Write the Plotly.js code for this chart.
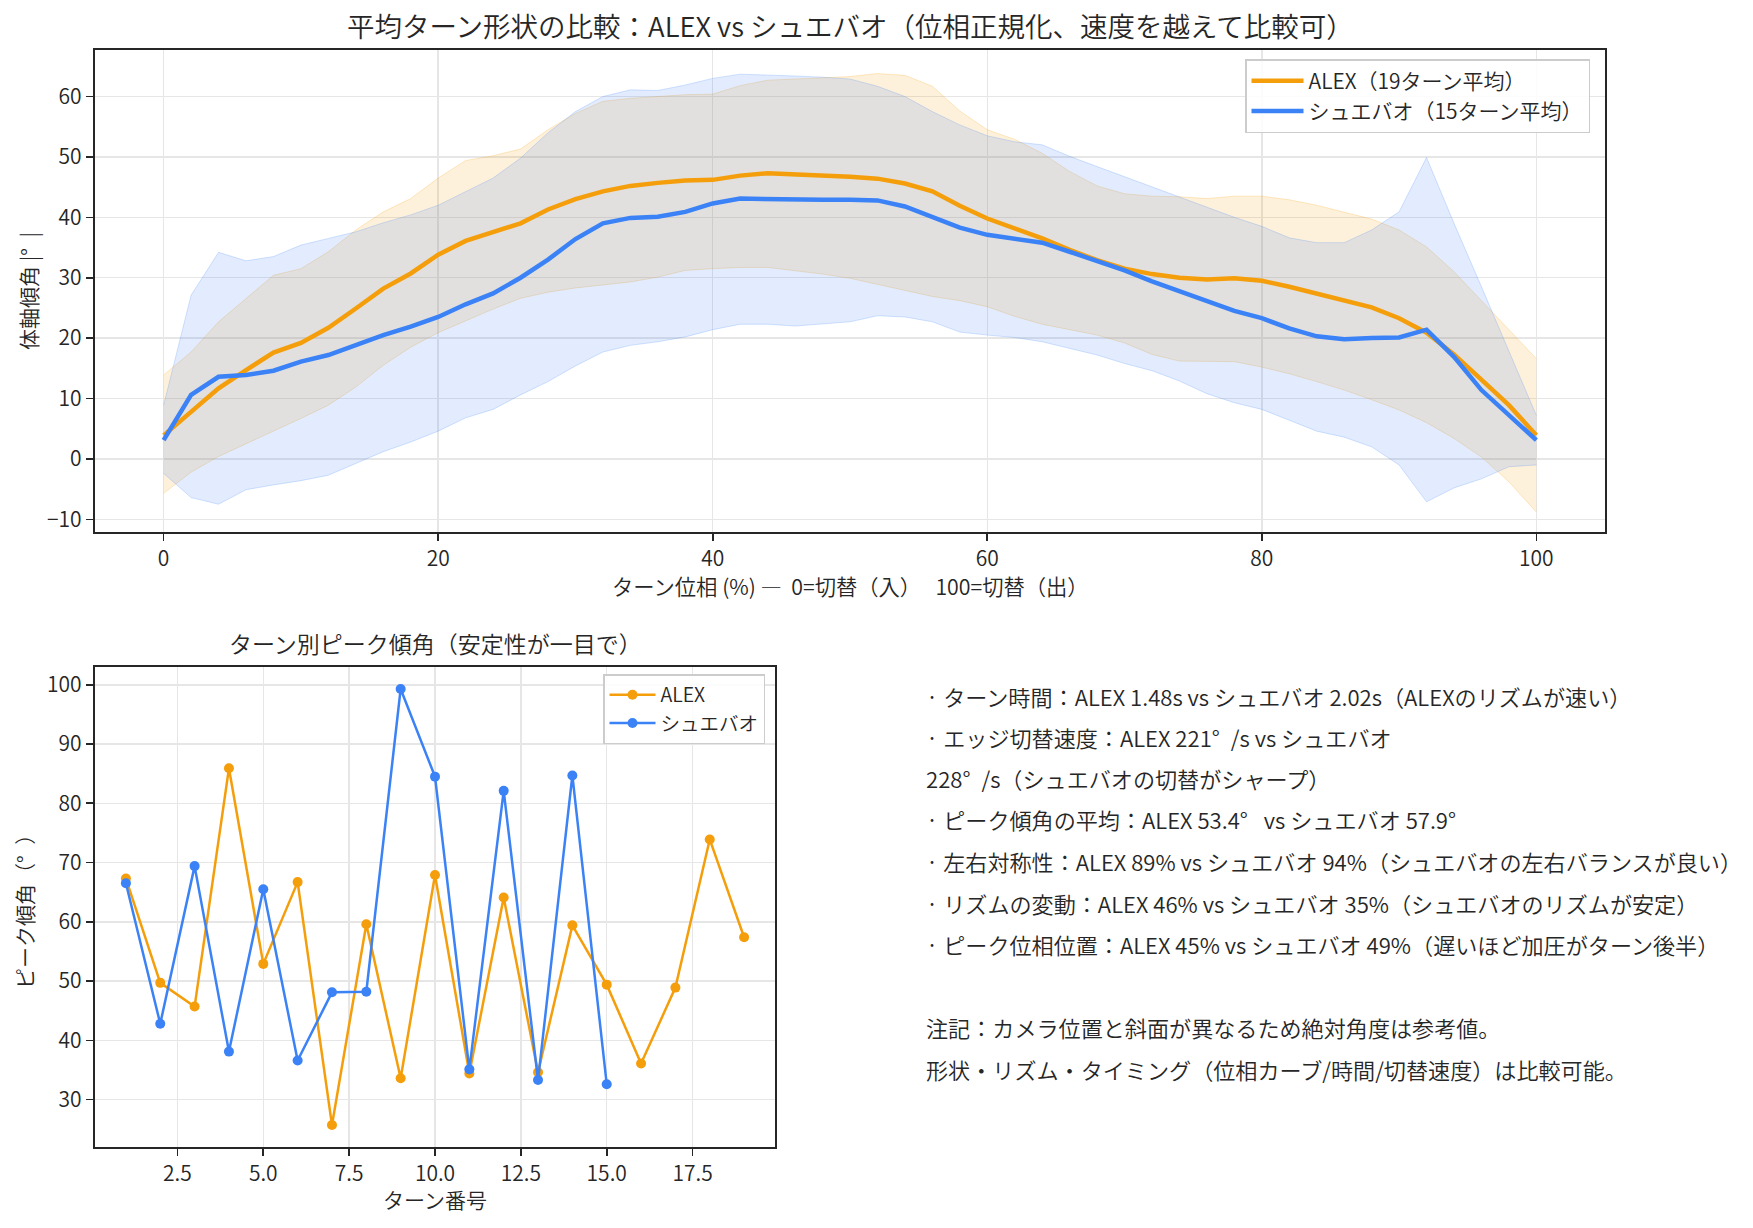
<!DOCTYPE html>
<html lang="ja">
<head>
<meta charset="utf-8">
<script src="https://cdn.plot.ly/plotly-3.0.1.min.js"></script>
<style>html,body{margin:0;padding:0;background:#fff;}#chart{width:1753px;height:1228px;}</style>
</head>
<body>
<div id="chart"></div>
<script>
// ---- Top chart: mean turn shape (phase 0..100) ----
const phase = [0,2,4,6,8,10,12,14,16,18,20,22,24,26,28,30,32,34,36,38,40,42,44,46,48,50,52,54,56,58,60,62,64,66,68,70,72,74,76,78,80,82,84,86,88,90,92,94,96,98,100];
const alexMean = [3.9,7.8,11.7,14.7,17.6,19.2,21.7,24.9,28.2,30.7,33.8,36.1,37.6,39.0,41.3,43.0,44.3,45.2,45.7,46.1,46.2,46.9,47.3,47.1,47.0,46.7,46.4,45.6,44.3,41.9,39.8,38.2,36.5,34.6,32.9,31.5,30.6,30.0,29.7,29.9,29.5,28.5,27.4,26.2,25.1,23.3,20.9,17.3,13.1,8.9,3.9];
const alexUpper = [13.9,17.7,22.7,26.6,30.4,31.5,34.3,37.9,40.9,43.1,46.5,49.4,50.2,51.3,54.5,57.2,59.2,59.7,60.0,60.3,60.4,61.8,62.7,62.9,63.0,63.3,63.8,63.5,61.7,57.6,54.5,52.9,50.6,47.6,45.2,43.9,43.5,43.4,43.1,43.5,43.5,42.9,42.0,40.8,39.7,37.9,35.1,31.0,26.2,21.4,16.6];
const alexLower = [-5.7,-2.2,0.4,2.5,4.5,6.7,8.9,11.9,15.5,18.5,20.9,22.9,24.8,26.6,27.6,28.3,28.8,29.3,30.1,31.2,31.5,31.7,31.7,31.2,30.6,29.9,28.9,27.8,26.9,26.2,25.2,23.6,22.3,21.4,20.5,19.2,17.3,16.2,16.2,16.1,15.2,14.1,12.8,11.4,9.8,8.1,6.0,3.4,0.3,-3.8,-8.8];
const shueMean = [3.1,10.6,13.6,13.9,14.6,16.1,17.2,18.8,20.5,21.9,23.5,25.6,27.4,30.0,33.0,36.4,39.0,39.9,40.1,40.9,42.3,43.1,43.0,42.9,42.9,42.9,42.8,41.8,40.1,38.3,37.1,36.4,35.8,34.3,32.8,31.2,29.4,27.7,26.0,24.5,23.3,21.6,20.3,19.8,20.0,20.1,21.4,16.9,11.4,7.2,3.1];
const shueUpper = [8.9,27.1,34.2,32.8,33.5,35.4,36.5,37.6,39.1,40.4,42.0,44.3,46.5,49.8,54.0,57.5,60.0,61.1,61.0,61.9,63.0,63.7,63.6,63.4,63.2,62.9,61.7,60.0,57.5,55.3,53.5,52.5,52.0,50.1,48.4,46.7,45.1,43.4,41.7,40.0,38.5,36.6,35.8,35.8,37.9,40.9,49.9,39.0,28.5,18.0,7.2];
const shueLower = [-2.4,-6.4,-7.5,-5.1,-4.3,-3.6,-2.7,-0.8,1.2,2.8,4.6,6.8,8.2,10.6,12.8,15.4,17.7,18.8,19.4,20.2,21.4,22.3,22.3,22.0,22.4,22.7,23.7,23.5,22.7,21.0,20.5,20.1,19.4,18.3,17.2,15.8,14.6,12.9,10.8,9.3,8.2,6.4,4.6,3.6,2.0,-1.0,-7.1,-4.8,-3.3,-1.3,-1.0];

// ---- Bottom chart: peak tilt per turn ----
const alexTurns = [1,2,3,4,5,6,7,8,9,10,11,12,13,14,15,16,17,18,19];
const alexPeak = [67.3,49.7,45.7,85.9,52.9,66.7,25.7,59.6,33.6,67.9,34.4,64.1,34.6,59.4,49.4,36.1,48.9,73.9,57.4];
const shueTurns = [1,2,3,4,5,6,7,8,9,10,11,12,13,14,15];
const shuePeak = [66.5,42.8,69.4,38.1,65.5,36.6,48.1,48.2,99.3,84.5,35.1,82.1,33.3,84.7,32.6];

// ---- Texts ----
const SP = '\u2002';
const NB = '\u00a0';
const seriesNames = ['ALEX', 'シュエバオ'];
const topLegend = ['ALEX（19ターン平均）', 'シュエバオ（15ターン平均）'];
const topTitle = '平均ターン形状の比較：ALEX vs シュエバオ（位相正規化、速度を越えて比較可）';
const topXTitle = 'ターン位相 (%)' + NB + '—' + NB + NB + '0=切替（入）' + NB + NB + NB + '100=切替（出）';
const topYTitle = '体軸傾角 |°' + SP + '|';
const botTitle = 'ターン別ピーク傾角（安定性が一目で）';
const botXTitle = 'ターン番号';
const botYTitle = 'ピーク傾角（°' + SP + '）';
const topXTicks = [0,20,40,60,80,100];
const topYTicks = [-10,0,10,20,30,40,50,60];
const botXTicks = [2.5,5.0,7.5,10.0,12.5,15.0,17.5];
const botXTickText = ['2.5','5.0','7.5','10.0','12.5','15.0','17.5'];
const botYTicks = [30,40,50,60,70,80,90,100];
const notes = [
  '· ターン時間：ALEX 1.48s vs シュエバオ 2.02s（ALEXのリズムが速い）',
  '· エッジ切替速度：ALEX 221°' + SP + '/s vs シュエバオ',
  '228°' + SP + '/s（シュエバオの切替がシャープ）',
  '· ピーク傾角の平均：ALEX 53.4°' + SP + NB + 'vs シュエバオ 57.9°',
  '· 左右対称性：ALEX 89% vs シュエバオ 94%（シュエバオの左右バランスが良い）',
  '· リズムの変動：ALEX 46% vs シュエバオ 35%（シュエバオのリズムが安定）',
  '· ピーク位相位置：ALEX 45% vs シュエバオ 49%（遅いほど加圧がターン後半）',
  '',
  '注記：カメラ位置と斜面が異なるため絶対角度は参考値。',
  '形状・リズム・タイミング（位相カーブ/時間/切替速度）は比較可能。'
];

const ORANGE = '#f59e0b';
const BLUE = '#3b82f6';
const ORANGE_FILL = 'rgba(245,158,11,0.15)';
const BLUE_FILL = 'rgba(59,130,246,0.15)';
const FONT = '"Noto Sans CJK JP DemiLight", "Noto Sans CJK JP Light", "Noto Sans CJK JP", "Noto Sans CJK SC", sans-serif';
const FW = 300;
const TXT = '#262626';
const W = 1753, H = 1228;
const px = v => v / W;
const py = v => 1 - v / H;
const f = (size) => ({family: FONT, size: size, color: TXT, weight: FW});

const traces = [
  {x: phase, y: alexLower, type: 'scatter', mode: 'lines', line: {color: 'rgba(245,158,11,0.22)', width: 1}, showlegend: false, hoverinfo: 'skip', xaxis: 'x', yaxis: 'y'},
  {x: phase, y: alexUpper, type: 'scatter', mode: 'lines', fill: 'tonexty', fillcolor: ORANGE_FILL, line: {color: 'rgba(245,158,11,0.22)', width: 1}, showlegend: false, hoverinfo: 'skip', xaxis: 'x', yaxis: 'y'},
  {x: phase, y: shueLower, type: 'scatter', mode: 'lines', line: {color: 'rgba(59,130,246,0.22)', width: 1}, showlegend: false, hoverinfo: 'skip', xaxis: 'x', yaxis: 'y'},
  {x: phase, y: shueUpper, type: 'scatter', mode: 'lines', fill: 'tonexty', fillcolor: BLUE_FILL, line: {color: 'rgba(59,130,246,0.22)', width: 1}, showlegend: false, hoverinfo: 'skip', xaxis: 'x', yaxis: 'y'},
  {x: phase, y: alexMean, type: 'scatter', mode: 'lines', name: topLegend[0], line: {color: ORANGE, width: 4.5}, xaxis: 'x', yaxis: 'y', legend: 'legend'},
  {x: phase, y: shueMean, type: 'scatter', mode: 'lines', name: topLegend[1], line: {color: BLUE, width: 4.5}, xaxis: 'x', yaxis: 'y', legend: 'legend'},
  {x: alexTurns, y: alexPeak, type: 'scatter', mode: 'lines+markers', name: seriesNames[0], line: {color: ORANGE, width: 2.5}, marker: {color: ORANGE, size: 10}, xaxis: 'x2', yaxis: 'y2', legend: 'legend2'},
  {x: shueTurns, y: shuePeak, type: 'scatter', mode: 'lines+markers', name: seriesNames[1], line: {color: BLUE, width: 2.5}, marker: {color: BLUE, size: 10}, xaxis: 'x2', yaxis: 'y2', legend: 'legend2'}
];

const axisCommon = {
  showline: true, mirror: true, linecolor: '#262626', linewidth: 2.2,
  ticks: 'outside', ticklen: 7, tickwidth: 1.6, tickcolor: '#262626',
  showgrid: true, gridcolor: '#e6e6e6', gridwidth: 1.5, zeroline: false,
  tickfont: f(21), fixedrange: true
};

const annotations = [
  {text: topTitle, x: px(850), y: py(25), xref: 'paper', yref: 'paper', showarrow: false, xanchor: 'center', yanchor: 'middle', font: f(27.5)},
  {text: topXTitle, x: px(850), y: py(585), xref: 'paper', yref: 'paper', showarrow: false, xanchor: 'center', yanchor: 'middle', font: f(21.3)},
  {text: topYTitle, x: px(28), y: py(291), xref: 'paper', yref: 'paper', showarrow: false, xanchor: 'center', yanchor: 'middle', textangle: -90, font: f(21)},
  {text: botTitle, x: px(435), y: py(643), xref: 'paper', yref: 'paper', showarrow: false, xanchor: 'center', yanchor: 'middle', font: f(23)},
  {text: botXTitle, x: px(435), y: py(1199), xref: 'paper', yref: 'paper', showarrow: false, xanchor: 'center', yanchor: 'middle', font: f(21)},
  {text: botYTitle, x: px(24), y: py(907), xref: 'paper', yref: 'paper', showarrow: false, xanchor: 'center', yanchor: 'middle', textangle: -90, font: f(21)}
];
const noteY = [696, 737, 778, 819, 861, 903, 944, 986, 1027, 1069];
notes.forEach((t, i) => {
  if (!t) return;
  annotations.push({text: t, x: px(924), y: py(noteY[i]), xref: 'paper', yref: 'paper', showarrow: false, xanchor: 'left', yanchor: 'middle', align: 'left', font: f(22.1)});
});

const layout = {
  width: W, height: H,
  margin: {l: 0, r: 0, t: 0, b: 0},
  paper_bgcolor: '#ffffff', plot_bgcolor: '#ffffff',
  font: {family: FONT, color: TXT, weight: FW},
  hovermode: false,
  xaxis: Object.assign({}, axisCommon, {domain: [px(95), px(1605)], range: [-5, 105], tickvals: topXTicks, anchor: 'y'}),
  yaxis: Object.assign({}, axisCommon, {domain: [py(532), py(50)], range: [-12.1, 67.7], tickvals: topYTicks, anchor: 'x'}),
  xaxis2: Object.assign({}, axisCommon, {domain: [px(95), px(775)], range: [0.1, 19.9], tickvals: botXTicks, ticktext: botXTickText, anchor: 'y2'}),
  yaxis2: Object.assign({}, axisCommon, {domain: [py(1147), py(667)], range: [22.0, 103.0], tickvals: botYTicks, anchor: 'x2'}),
  legend: {x: px(1245), y: py(59), xanchor: 'left', yanchor: 'top', traceorder: 'normal', itemwidth: 52, bgcolor: 'rgba(255,255,255,0.85)', bordercolor: '#cccccc', borderwidth: 1.5, font: f(21), tracegroupgap: 0},
  legend2: {x: px(603), y: py(674), xanchor: 'left', yanchor: 'top', traceorder: 'normal', itemwidth: 46, bgcolor: 'rgba(255,255,255,0.85)', bordercolor: '#cccccc', borderwidth: 1.5, font: f(19.5), tracegroupgap: 0},
  annotations: annotations
};

Plotly.newPlot('chart', traces, layout, {displayModeBar: false, staticPlot: true});
</script>
</body>
</html>
